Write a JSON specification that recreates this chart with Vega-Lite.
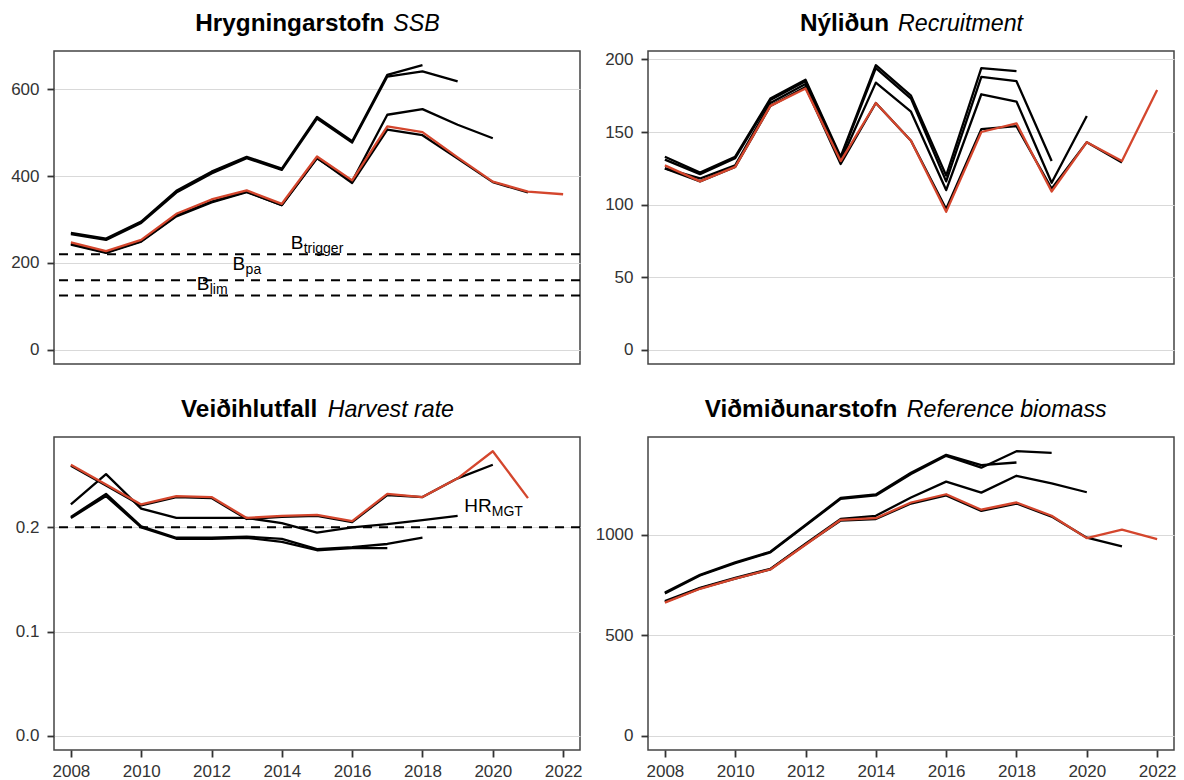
{
  "$schema": "https://vega.github.io/schema/vega-lite/v6.json",
  "background": "white",
  "padding": {"left": 0, "top": 10, "right": 5, "bottom": 0},
  "columns": 2,
  "spacing": {"row": 31, "column": 11},
  "align": "each",
  "config": {
    "font": "Liberation Sans",
    "view": {"stroke": "#444444", "strokeWidth": 1.5},
    "axis": {
      "domain": false,
      "tickSize": 7,
      "tickWidth": 1.8,
      "tickColor": "#333333",
      "labelFontSize": 17,
      "labelColor": "#333333",
      "labelFont": "Liberation Sans",
      "labelFlush": false,
      "labelOverlap": false,
      "titleFont": "Liberation Sans",
      "titleColor": "#000000",
      "gridColor": "#d9d9d9",
      "gridWidth": 1.2
    },
    "axisX": {"grid": false},
    "axisY": {"grid": true, "labelPadding": 8, "minExtent": 53, "maxExtent": 53}
  },
  "datasets": {
    "ssb": [
      {"a":2018,"y":2008,"v":269},{"a":2018,"y":2009,"v":256},{"a":2018,"y":2010,"v":295},{"a":2018,"y":2011,"v":366},{"a":2018,"y":2012,"v":410},{"a":2018,"y":2013,"v":444},{"a":2018,"y":2014,"v":417},{"a":2018,"y":2015,"v":536},{"a":2018,"y":2016,"v":480},{"a":2018,"y":2017,"v":633},{"a":2018,"y":2018,"v":655},
      {"a":2019,"y":2008,"v":266},{"a":2019,"y":2009,"v":253},{"a":2019,"y":2010,"v":292},{"a":2019,"y":2011,"v":362},{"a":2019,"y":2012,"v":406},{"a":2019,"y":2013,"v":441},{"a":2019,"y":2014,"v":414},{"a":2019,"y":2015,"v":532},{"a":2019,"y":2016,"v":477},{"a":2019,"y":2017,"v":629},{"a":2019,"y":2018,"v":641},{"a":2019,"y":2019,"v":618},
      {"a":2020,"y":2008,"v":242},{"a":2020,"y":2009,"v":223},{"a":2020,"y":2010,"v":249},{"a":2020,"y":2011,"v":307},{"a":2020,"y":2012,"v":339},{"a":2020,"y":2013,"v":363},{"a":2020,"y":2014,"v":333},{"a":2020,"y":2015,"v":441},{"a":2020,"y":2016,"v":388},{"a":2020,"y":2017,"v":541},{"a":2020,"y":2018,"v":554},{"a":2020,"y":2019,"v":518},{"a":2020,"y":2020,"v":487},
      {"a":2021,"y":2008,"v":244},{"a":2021,"y":2009,"v":224},{"a":2021,"y":2010,"v":250},{"a":2021,"y":2011,"v":309},{"a":2021,"y":2012,"v":341},{"a":2021,"y":2013,"v":364},{"a":2021,"y":2014,"v":333},{"a":2021,"y":2015,"v":442},{"a":2021,"y":2016,"v":384},{"a":2021,"y":2017,"v":507},{"a":2021,"y":2018,"v":494},{"a":2021,"y":2019,"v":440},{"a":2021,"y":2020,"v":386},{"a":2021,"y":2021,"v":362},
      {"a":2022,"y":2008,"v":247},{"a":2022,"y":2009,"v":227},{"a":2022,"y":2010,"v":253},{"a":2022,"y":2011,"v":313},{"a":2022,"y":2012,"v":346},{"a":2022,"y":2013,"v":367},{"a":2022,"y":2014,"v":336},{"a":2022,"y":2015,"v":445},{"a":2022,"y":2016,"v":390},{"a":2022,"y":2017,"v":514},{"a":2022,"y":2018,"v":501},{"a":2022,"y":2019,"v":443},{"a":2022,"y":2020,"v":387},{"a":2022,"y":2021,"v":364},{"a":2022,"y":2022,"v":358}
    ],
    "rec": [
      {"a":2018,"y":2008,"v":133},{"a":2018,"y":2009,"v":122},{"a":2018,"y":2010,"v":133},{"a":2018,"y":2011,"v":173},{"a":2018,"y":2012,"v":186},{"a":2018,"y":2013,"v":133},{"a":2018,"y":2014,"v":196},{"a":2018,"y":2015,"v":175},{"a":2018,"y":2016,"v":120},{"a":2018,"y":2017,"v":194},{"a":2018,"y":2018,"v":192},
      {"a":2019,"y":2008,"v":131},{"a":2019,"y":2009,"v":121},{"a":2019,"y":2010,"v":132},{"a":2019,"y":2011,"v":172},{"a":2019,"y":2012,"v":185},{"a":2019,"y":2013,"v":132},{"a":2019,"y":2014,"v":194},{"a":2019,"y":2015,"v":173},{"a":2019,"y":2016,"v":116},{"a":2019,"y":2017,"v":188},{"a":2019,"y":2018,"v":185},{"a":2019,"y":2019,"v":130},
      {"a":2020,"y":2008,"v":125},{"a":2020,"y":2009,"v":118},{"a":2020,"y":2010,"v":127},{"a":2020,"y":2011,"v":170},{"a":2020,"y":2012,"v":183},{"a":2020,"y":2013,"v":130},{"a":2020,"y":2014,"v":184},{"a":2020,"y":2015,"v":164},{"a":2020,"y":2016,"v":110},{"a":2020,"y":2017,"v":176},{"a":2020,"y":2018,"v":171},{"a":2020,"y":2019,"v":115},{"a":2020,"y":2020,"v":161},
      {"a":2021,"y":2008,"v":125},{"a":2021,"y":2009,"v":116},{"a":2021,"y":2010,"v":126},{"a":2021,"y":2011,"v":168},{"a":2021,"y":2012,"v":181},{"a":2021,"y":2013,"v":128},{"a":2021,"y":2014,"v":170},{"a":2021,"y":2015,"v":144},{"a":2021,"y":2016,"v":97},{"a":2021,"y":2017,"v":152},{"a":2021,"y":2018,"v":154},{"a":2021,"y":2019,"v":111},{"a":2021,"y":2020,"v":143},{"a":2021,"y":2021,"v":129},
      {"a":2022,"y":2008,"v":127},{"a":2022,"y":2009,"v":116},{"a":2022,"y":2010,"v":126},{"a":2022,"y":2011,"v":168},{"a":2022,"y":2012,"v":180},{"a":2022,"y":2013,"v":130},{"a":2022,"y":2014,"v":170},{"a":2022,"y":2015,"v":144},{"a":2022,"y":2016,"v":95},{"a":2022,"y":2017,"v":150},{"a":2022,"y":2018,"v":156},{"a":2022,"y":2019,"v":109},{"a":2022,"y":2020,"v":143},{"a":2022,"y":2021,"v":130},{"a":2022,"y":2022,"v":179}
    ],
    "hr": [
      {"a":2018,"y":2008,"v":0.209},{"a":2018,"y":2009,"v":0.230},{"a":2018,"y":2010,"v":0.200},{"a":2018,"y":2011,"v":0.189},{"a":2018,"y":2012,"v":0.189},{"a":2018,"y":2013,"v":0.190},{"a":2018,"y":2014,"v":0.186},{"a":2018,"y":2015,"v":0.178},{"a":2018,"y":2016,"v":0.180},{"a":2018,"y":2017,"v":0.180},
      {"a":2019,"y":2008,"v":0.210},{"a":2019,"y":2009,"v":0.232},{"a":2019,"y":2010,"v":0.201},{"a":2019,"y":2011,"v":0.190},{"a":2019,"y":2012,"v":0.190},{"a":2019,"y":2013,"v":0.191},{"a":2019,"y":2014,"v":0.189},{"a":2019,"y":2015,"v":0.179},{"a":2019,"y":2016,"v":0.181},{"a":2019,"y":2017,"v":0.184},{"a":2019,"y":2018,"v":0.190},
      {"a":2020,"y":2008,"v":0.222},{"a":2020,"y":2009,"v":0.251},{"a":2020,"y":2010,"v":0.218},{"a":2020,"y":2011,"v":0.209},{"a":2020,"y":2012,"v":0.209},{"a":2020,"y":2013,"v":0.209},{"a":2020,"y":2014,"v":0.204},{"a":2020,"y":2015,"v":0.195},{"a":2020,"y":2016,"v":0.200},{"a":2020,"y":2017,"v":0.203},{"a":2020,"y":2018,"v":0.207},{"a":2020,"y":2019,"v":0.211},
      {"a":2021,"y":2008,"v":0.259},{"a":2021,"y":2009,"v":0.240},{"a":2021,"y":2010,"v":0.221},{"a":2021,"y":2011,"v":0.229},{"a":2021,"y":2012,"v":0.228},{"a":2021,"y":2013,"v":0.208},{"a":2021,"y":2014,"v":0.210},{"a":2021,"y":2015,"v":0.211},{"a":2021,"y":2016,"v":0.205},{"a":2021,"y":2017,"v":0.231},{"a":2021,"y":2018,"v":0.229},{"a":2021,"y":2019,"v":0.247},{"a":2021,"y":2020,"v":0.260},
      {"a":2022,"y":2008,"v":0.260},{"a":2022,"y":2009,"v":0.241},{"a":2022,"y":2010,"v":0.222},{"a":2022,"y":2011,"v":0.230},{"a":2022,"y":2012,"v":0.229},{"a":2022,"y":2013,"v":0.209},{"a":2022,"y":2014,"v":0.211},{"a":2022,"y":2015,"v":0.212},{"a":2022,"y":2016,"v":0.206},{"a":2022,"y":2017,"v":0.232},{"a":2022,"y":2018,"v":0.229},{"a":2022,"y":2019,"v":0.247},{"a":2022,"y":2020,"v":0.273},{"a":2022,"y":2021,"v":0.228}
    ],
    "bio": [
      {"a":2018,"y":2008,"v":712},{"a":2018,"y":2009,"v":800},{"a":2018,"y":2010,"v":862},{"a":2018,"y":2011,"v":915},{"a":2018,"y":2012,"v":1048},{"a":2018,"y":2013,"v":1183},{"a":2018,"y":2014,"v":1200},{"a":2018,"y":2015,"v":1308},{"a":2018,"y":2016,"v":1397},{"a":2018,"y":2017,"v":1346},{"a":2018,"y":2018,"v":1359},
      {"a":2019,"y":2008,"v":708},{"a":2019,"y":2009,"v":797},{"a":2019,"y":2010,"v":858},{"a":2019,"y":2011,"v":912},{"a":2019,"y":2012,"v":1045},{"a":2019,"y":2013,"v":1178},{"a":2019,"y":2014,"v":1195},{"a":2019,"y":2015,"v":1302},{"a":2019,"y":2016,"v":1392},{"a":2019,"y":2017,"v":1333},{"a":2019,"y":2018,"v":1415},{"a":2019,"y":2019,"v":1407},
      {"a":2020,"y":2008,"v":670},{"a":2020,"y":2009,"v":736},{"a":2020,"y":2010,"v":785},{"a":2020,"y":2011,"v":830},{"a":2020,"y":2012,"v":955},{"a":2020,"y":2013,"v":1078},{"a":2020,"y":2014,"v":1094},{"a":2020,"y":2015,"v":1185},{"a":2020,"y":2016,"v":1264},{"a":2020,"y":2017,"v":1209},{"a":2020,"y":2018,"v":1293},{"a":2020,"y":2019,"v":1255},{"a":2020,"y":2020,"v":1211},
      {"a":2021,"y":2008,"v":665},{"a":2021,"y":2009,"v":733},{"a":2021,"y":2010,"v":782},{"a":2021,"y":2011,"v":828},{"a":2021,"y":2012,"v":952},{"a":2021,"y":2013,"v":1070},{"a":2021,"y":2014,"v":1078},{"a":2021,"y":2015,"v":1155},{"a":2021,"y":2016,"v":1195},{"a":2021,"y":2017,"v":1118},{"a":2021,"y":2018,"v":1155},{"a":2021,"y":2019,"v":1090},{"a":2021,"y":2020,"v":985},{"a":2021,"y":2021,"v":942},
      {"a":2022,"y":2008,"v":662},{"a":2022,"y":2009,"v":731},{"a":2022,"y":2010,"v":781},{"a":2022,"y":2011,"v":827},{"a":2022,"y":2012,"v":950},{"a":2022,"y":2013,"v":1074},{"a":2022,"y":2014,"v":1082},{"a":2022,"y":2015,"v":1160},{"a":2022,"y":2016,"v":1201},{"a":2022,"y":2017,"v":1124},{"a":2022,"y":2018,"v":1160},{"a":2022,"y":2019,"v":1094},{"a":2022,"y":2020,"v":983},{"a":2022,"y":2021,"v":1025},{"a":2022,"y":2022,"v":978}
    ],
    "ssb_ref": [{"v":220},{"v":160},{"v":125}],
    "ssb_lab": [
      {"yr":2014.25,"v":232,"t":"B","s":"trigger"},
      {"yr":2012.6,"v":184,"t":"B","s":"pa"},
      {"yr":2011.58,"v":137,"t":"B","s":"lim"}
    ],
    "hr_ref": [{"v":0.2}],
    "hr_lab": [{"yr":2019.19,"v":0.215,"t":"HR","s":"MGT"}]
  },
  "concat": [
    {
      "width": 526, "height": 313,
      "encoding": {
        "y": {"field": "v", "type": "quantitative",
          "scale": {"domain": [-32.75, 687.75], "nice": false, "zero": false},
          "axis": {"values": [0, 200, 400, 600], "format": "d", "title": "Hrygningarstofn", "titleFontSize": 24.3, "titleFontWeight": "bold", "titleAngle": 0, "titleX": 140.8, "titleY": -21, "titleAlign": "left", "titleBaseline": "alphabetic"}}
      },
      "layer": [
        {"data": {"name": "ssb"}, "transform": [{"filter": "datum.a < 2022"}],
         "mark": {"type": "line", "color": "#000000", "strokeWidth": 2.3, "strokeJoin": "round"},
         "encoding": {"x": {"field": "y", "type": "quantitative", "scale": {"domain": [2007.52, 2022.48], "nice": false, "zero": false}, "axis": null},
                      "detail": {"field": "a", "type": "nominal"}}},
        {"data": {"name": "ssb_ref"},
         "mark": {"type": "rule", "color": "#000000", "strokeWidth": 2, "strokeDash": [9, 7]}},
        {"data": {"name": "ssb_lab"},
         "mark": {"type": "text", "align": "left", "baseline": "alphabetic", "fontSize": 19, "color": "#000000"},
         "encoding": {"x": {"field": "yr", "type": "quantitative", "scale": {"domain": [2007.52, 2022.48], "nice": false, "zero": false}, "axis": null},
                      "text": {"field": "t"}}},
        {"data": {"name": "ssb_lab"},
         "mark": {"type": "text", "align": "left", "baseline": "alphabetic", "fontSize": 14, "dx": 13, "dy": 4, "color": "#000000"},
         "encoding": {"x": {"field": "yr", "type": "quantitative", "scale": {"domain": [2007.52, 2022.48], "nice": false, "zero": false}, "axis": null},
                      "text": {"field": "s"}}},
        {"data": {"name": "ssb"}, "transform": [{"filter": "datum.a == 2022"}],
         "mark": {"type": "line", "color": "#d4462d", "strokeWidth": 2.3, "strokeJoin": "round"},
         "encoding": {"x": {"field": "y", "type": "quantitative", "scale": {"domain": [2007.52, 2022.48], "nice": false, "zero": false},
                            "axis": {"orient": "top", "labels": false, "ticks": false, "domain": false, "grid": false, "title": "SSB", "titleFontStyle": "italic", "titleFontWeight": "normal", "titleFontSize": 23.2, "titleX": 338.8, "titleY": -21, "titleAlign": "left", "titleBaseline": "alphabetic"}}}}
      ],
      "resolve": {"axis": {"x": "independent"}}
    },
    {
      "width": 526, "height": 313,
      "encoding": {
        "y": {"field": "v", "type": "quantitative",
          "scale": {"domain": [-9.8, 205.8], "nice": false, "zero": false},
          "axis": {"values": [0, 50, 100, 150, 200], "format": "d", "title": "Nýliðun", "titleFontSize": 24.3, "titleFontWeight": "bold", "titleAngle": 0, "titleX": 151.4, "titleY": -21, "titleAlign": "left", "titleBaseline": "alphabetic"}}
      },
      "layer": [
        {"data": {"name": "rec"}, "transform": [{"filter": "datum.a < 2022"}],
         "mark": {"type": "line", "color": "#000000", "strokeWidth": 2.3, "strokeJoin": "round"},
         "encoding": {"x": {"field": "y", "type": "quantitative", "scale": {"domain": [2007.52, 2022.48], "nice": false, "zero": false}, "axis": null},
                      "detail": {"field": "a", "type": "nominal"}}},
        {"data": {"name": "rec"}, "transform": [{"filter": "datum.a == 2022"}],
         "mark": {"type": "line", "color": "#d4462d", "strokeWidth": 2.3, "strokeJoin": "round"},
         "encoding": {"x": {"field": "y", "type": "quantitative", "scale": {"domain": [2007.52, 2022.48], "nice": false, "zero": false},
                            "axis": {"orient": "top", "labels": false, "ticks": false, "domain": false, "grid": false, "title": "Recruitment", "titleFontStyle": "italic", "titleFontWeight": "normal", "titleFontSize": 23.2, "titleX": 249.5, "titleY": -21, "titleAlign": "left", "titleBaseline": "alphabetic"}}}}
      ],
      "resolve": {"axis": {"x": "independent"}}
    },
    {
      "width": 526, "height": 313,
      "encoding": {
        "y": {"field": "v", "type": "quantitative",
          "scale": {"domain": [-0.01365, 0.28665], "nice": false, "zero": false},
          "axis": {"values": [0, 0.1, 0.2], "format": ".1f", "title": "Veiðihlutfall", "titleFontSize": 24.3, "titleFontWeight": "bold", "titleAngle": 0, "titleX": 126.5, "titleY": -21, "titleAlign": "left", "titleBaseline": "alphabetic"}}
      },
      "layer": [
        {"data": {"name": "hr"}, "transform": [{"filter": "datum.a < 2022"}],
         "mark": {"type": "line", "color": "#000000", "strokeWidth": 2.3, "strokeJoin": "round"},
         "encoding": {"x": {"field": "y", "type": "quantitative", "scale": {"domain": [2007.52, 2022.48], "nice": false, "zero": false},
                            "axis": {"orient": "bottom", "values": [2008, 2010, 2012, 2014, 2016, 2018, 2020, 2022], "format": "d", "labelPadding": 6, "title": null}},
                      "detail": {"field": "a", "type": "nominal"}}},
        {"data": {"name": "hr_ref"},
         "mark": {"type": "rule", "color": "#000000", "strokeWidth": 2, "strokeDash": [9, 7]}},
        {"data": {"name": "hr_lab"},
         "mark": {"type": "text", "align": "left", "baseline": "alphabetic", "fontSize": 19, "color": "#000000"},
         "encoding": {"x": {"field": "yr", "type": "quantitative", "scale": {"domain": [2007.52, 2022.48], "nice": false, "zero": false}, "axis": null},
                      "text": {"field": "t"}}},
        {"data": {"name": "hr_lab"},
         "mark": {"type": "text", "align": "left", "baseline": "alphabetic", "fontSize": 14, "dx": 27.5, "dy": 4, "color": "#000000"},
         "encoding": {"x": {"field": "yr", "type": "quantitative", "scale": {"domain": [2007.52, 2022.48], "nice": false, "zero": false}, "axis": null},
                      "text": {"field": "s"}}},
        {"data": {"name": "hr"}, "transform": [{"filter": "datum.a == 2022"}],
         "mark": {"type": "line", "color": "#d4462d", "strokeWidth": 2.3, "strokeJoin": "round"},
         "encoding": {"x": {"field": "y", "type": "quantitative", "scale": {"domain": [2007.52, 2022.48], "nice": false, "zero": false},
                            "axis": {"orient": "top", "labels": false, "ticks": false, "domain": false, "grid": false, "title": "Harvest rate", "titleFontStyle": "italic", "titleFontWeight": "normal", "titleFontSize": 23.2, "titleX": 273.2, "titleY": -21, "titleAlign": "left", "titleBaseline": "alphabetic"}}}}
      ],
      "resolve": {"axis": {"x": "independent"}}
    },
    {
      "width": 526, "height": 313,
      "encoding": {
        "y": {"field": "v", "type": "quantitative",
          "scale": {"domain": [-70.7, 1485.7], "nice": false, "zero": false},
          "axis": {"values": [0, 500, 1000], "format": "d", "title": "Viðmiðunarstofn", "titleFontSize": 24.3, "titleFontWeight": "bold", "titleAngle": 0, "titleX": 56.2, "titleY": -21, "titleAlign": "left", "titleBaseline": "alphabetic"}}
      },
      "layer": [
        {"data": {"name": "bio"}, "transform": [{"filter": "datum.a < 2022"}],
         "mark": {"type": "line", "color": "#000000", "strokeWidth": 2.3, "strokeJoin": "round"},
         "encoding": {"x": {"field": "y", "type": "quantitative", "scale": {"domain": [2007.52, 2022.48], "nice": false, "zero": false},
                            "axis": {"orient": "bottom", "values": [2008, 2010, 2012, 2014, 2016, 2018, 2020, 2022], "format": "d", "labelPadding": 6, "title": null}},
                      "detail": {"field": "a", "type": "nominal"}}},
        {"data": {"name": "bio"}, "transform": [{"filter": "datum.a == 2022"}],
         "mark": {"type": "line", "color": "#d4462d", "strokeWidth": 2.3, "strokeJoin": "round"},
         "encoding": {"x": {"field": "y", "type": "quantitative", "scale": {"domain": [2007.52, 2022.48], "nice": false, "zero": false},
                            "axis": {"orient": "top", "labels": false, "ticks": false, "domain": false, "grid": false, "title": "Reference biomass", "titleFontStyle": "italic", "titleFontWeight": "normal", "titleFontSize": 23.2, "titleX": 258.3, "titleY": -21, "titleAlign": "left", "titleBaseline": "alphabetic"}}}}
      ],
      "resolve": {"axis": {"x": "independent"}}
    }
  ]
}
